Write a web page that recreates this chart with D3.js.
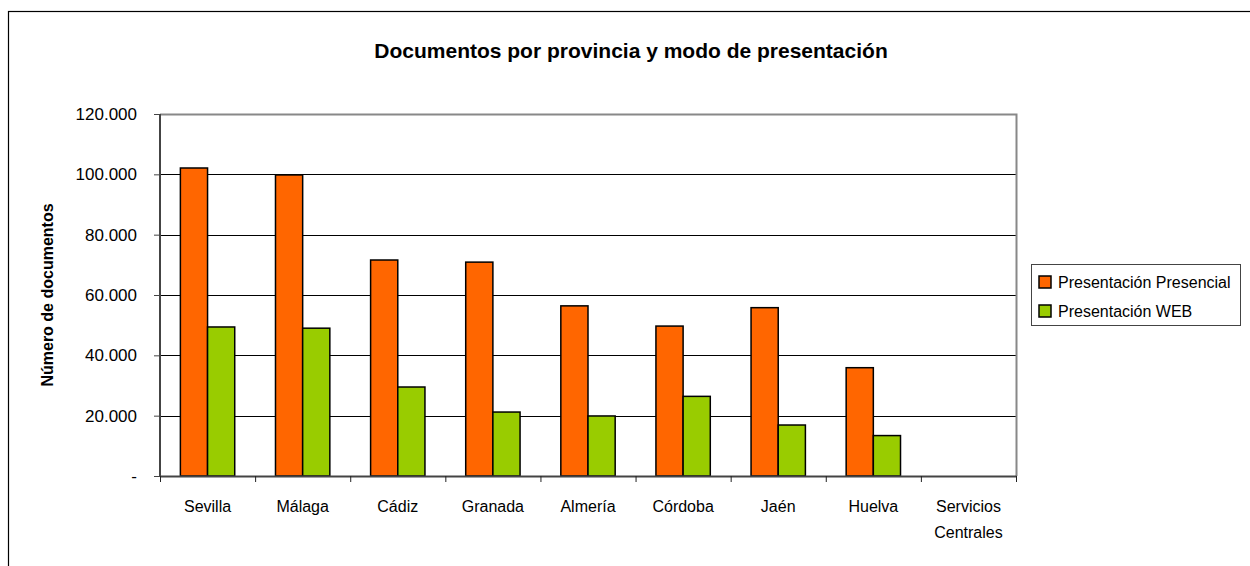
<!DOCTYPE html>
<html>
<head>
<meta charset="utf-8">
<script src="https://cdn.jsdelivr.net/npm/d3@7"></script>
<style>
  body { margin: 0; background: #fff; }
  text { font-family: "Liberation Sans Narrow", "Arial Narrow", "Liberation Sans", sans-serif; fill: #000; }
</style>
</head>
<body>
<svg width="1250" height="566"></svg>
<script>
// data
var provincias = ["Sevilla", "Málaga", "Cádiz", "Granada", "Almería", "Córdoba", "Jaén", "Huelva", "Servicios Centrales"];
var presencial = [102100, 99800, 71600, 70900, 56400, 49700, 55800, 35900, 0];
var web = [49400, 49000, 29500, 21200, 19900, 26400, 16900, 13400, 0];
var series = ["Presentación Presencial", "Presentación WEB"];
var colores = ["#ff6600", "#99cc00"];
var yTicks = [0, 20000, 40000, 60000, 80000, 100000, 120000];

var svg = d3.select("svg");

// outer chart border (clipped by the window on the right/bottom)
svg.append("rect")
  .attr("x", 8.5).attr("y", 11.5)
  .attr("width", 1260).attr("height", 580)
  .attr("fill", "none").attr("stroke", "#000").attr("stroke-width", 1.2);

var margin = {left: 160, top: 114, right: 1016, bottom: 476};

var x = d3.scaleBand()
  .domain(provincias)
  .range([margin.left, margin.right])
  .paddingInner(0).paddingOuter(0);

var inner = d3.scaleBand()
  .domain(series)
  .range([0, x.bandwidth()])
  .paddingInner(0)
  .paddingOuter(0.75);

var y = d3.scaleLinear().domain([0, 120000]).range([margin.bottom, margin.top]);

// gridlines
svg.append("g").selectAll("line")
  .data(yTicks.filter(function(d) { return d > 0 && d < 120000; }))
  .enter().append("line")
    .attr("x1", margin.left).attr("x2", margin.right)
    .attr("y1", function(d) { return Math.round(y(d)) + 0.5; })
    .attr("y2", function(d) { return Math.round(y(d)) + 0.5; })
    .attr("stroke", "#000").attr("stroke-width", 1);

// plot frame top/right
svg.append("path")
  .attr("d", "M" + margin.left + "," + (margin.top + 0.5) + "H" + (margin.right + 0.5) + "V" + margin.bottom)
  .attr("fill", "none").attr("stroke", "#888").attr("stroke-width", 2);

// bars
var data = provincias.map(function(p, i) {
  return {prov: p, vals: [{s: series[0], v: presencial[i]}, {s: series[1], v: web[i]}]};
});

var group = svg.append("g").selectAll("g")
  .data(data)
  .enter().append("g")
    .attr("transform", function(d) { return "translate(" + x(d.prov) + ",0)"; });

group.selectAll("rect")
  .data(function(d) { return d.vals.filter(function(e) { return e.v > 0; }); })
  .enter().append("rect")
    .attr("x", function(d) { return inner(d.s); })
    .attr("width", inner.bandwidth())
    .attr("y", function(d) { return y(d.v); })
    .attr("height", function(d) { return y(0) - y(d.v); })
    .attr("fill", function(d) { return colores[series.indexOf(d.s)]; })
    .attr("stroke", "#000").attr("stroke-width", 1.5);

// y axis
var yAxis = d3.axisLeft(y)
  .tickValues(yTicks)
  .tickSize(6)
  .tickPadding(17)
  .tickFormat(function(d) { return d === 0 ? "-" : d3.format(",")(d).replace(/,/g, "."); });

var gy = svg.append("g")
  .attr("transform", "translate(" + margin.left + ",0)")
  .call(yAxis);
gy.select(".domain").attr("stroke", "#444").attr("stroke-width", 2).attr("d", "M-0," + margin.top + "V" + margin.bottom);
gy.selectAll(".tick line").attr("stroke", "#444");
gy.selectAll(".tick text")
  .style("font-family", "'Liberation Sans Narrow', 'Arial Narrow', 'Liberation Sans', sans-serif")
  .style("font-size", "17px").attr("fill", "#222");

// x axis
var xAxis = d3.axisBottom(x).tickSize(0).tickFormat("");
var gx = svg.append("g")
  .attr("transform", "translate(0," + margin.bottom + ")")
  .call(xAxis);
gx.select(".domain").attr("stroke", "#444").attr("stroke-width", 2);

// category separator ticks
svg.append("g").selectAll("line")
  .data(provincias.concat(["end"]))
  .enter().append("line")
    .attr("x1", function(d, i) { return margin.left + i * x.step() + 0.5; })
    .attr("x2", function(d, i) { return margin.left + i * x.step() + 0.5; })
    .attr("y1", margin.bottom).attr("y2", margin.bottom + 6)
    .attr("stroke", "#222").attr("stroke-width", 1);

// x labels (wrapped)
var labels = svg.append("g").selectAll("text")
  .data(provincias)
  .enter().append("text")
    .attr("x", function(d) { return x(d) + x.bandwidth() / 2; })
    .attr("y", 512)
    .attr("text-anchor", "middle")
    .style("font-size", "16px")
    .attr("fill", "#222");
labels.each(function(d) {
  var words = d.split(" ");
  var t = d3.select(this);
  words.forEach(function(w, i) {
    t.append("tspan")
      .attr("x", x(d) + x.bandwidth() / 2)
      .attr("dy", i === 0 ? 0 : 26)
      .text(w);
  });
});

// title
svg.append("text")
  .attr("x", 631).attr("y", 58)
  .attr("text-anchor", "middle")
  .style("font-size", "21px").style("font-weight", "bold")
  .text("Documentos por provincia y modo de presentación");

// y title
svg.append("text")
  .attr("transform", "translate(53,295) rotate(-90)")
  .attr("text-anchor", "middle")
  .style("font-size", "16px").style("font-weight", "bold")
  .text("Número de documentos");

// legend
var legend = svg.append("g").attr("transform", "translate(1031,264)");
legend.append("rect")
  .attr("x", 0.5).attr("y", 0.5).attr("width", 209).attr("height", 61)
  .attr("fill", "#fff").attr("stroke", "#444").attr("stroke-width", 1);
var item = legend.selectAll("g.item")
  .data(series)
  .enter().append("g")
    .attr("class", "item")
    .attr("transform", function(d, i) { return "translate(8," + (12 + i * 29) + ")"; });
item.append("rect")
  .attr("x", 0).attr("y", 0).attr("width", 12).attr("height", 12)
  .attr("fill", function(d, i) { return colores[i]; })
  .attr("stroke", "#000").attr("stroke-width", 1.5);
item.append("text")
  .attr("x", 19).attr("y", 12)
  .style("font-size", "16px")
  .attr("fill", "#222")
  .text(function(d) { return d; });
</script>
</body>
</html>
